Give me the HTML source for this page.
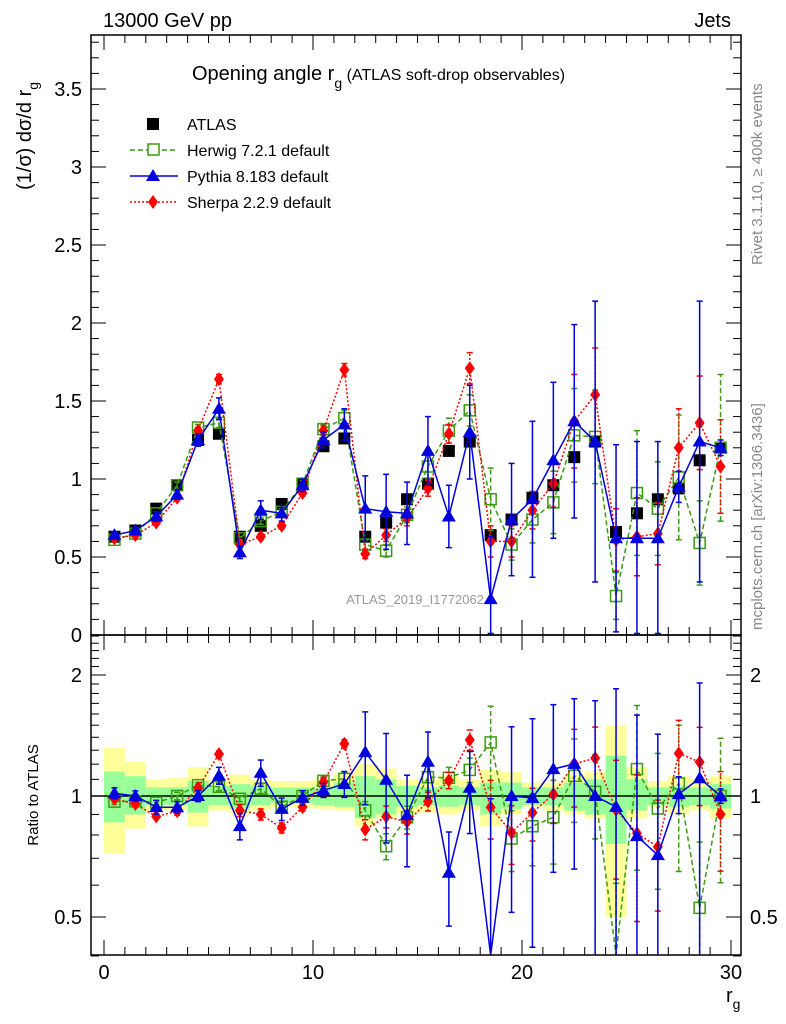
<!DOCTYPE html>
<html><head><meta charset="utf-8"><style>
html,body{margin:0;padding:0;background:#fff;overflow:hidden;width:786px;height:1024px;}
svg{display:block;font-family:"Liberation Sans",sans-serif;}
</style></head><body>
<svg id="c" width="786" height="1024" viewBox="0 0 786 1024" xmlns="http://www.w3.org/2000/svg">
<rect x="0" y="0" width="786" height="1024" fill="#fff"/>
<g id="bands"></g><g id="ticks"></g><g id="series"></g>
<rect x="91" y="35" width="650" height="600" fill="none" stroke="#000" stroke-width="1.5"/>
<rect x="91" y="635" width="650" height="320" fill="none" stroke="#000" stroke-width="1.5"/>
<text x="103" y="27" font-size="20">13000 GeV pp</text>
<text x="731" y="27" font-size="20" text-anchor="end">Jets</text>
<text x="192" y="80" font-size="20">Opening angle r<tspan font-size="14" dy="8">g</tspan><tspan font-size="16" dy="-8"> (ATLAS soft-drop observables)</tspan></text>
<text transform="translate(31,190) rotate(-90)" font-size="20">(1/σ) dσ/d r<tspan font-size="14" dy="7">g</tspan></text>
<text transform="translate(762,265) rotate(-90)" font-size="15" fill="#888">Rivet 3.1.10, ≥ 400k events</text>
<text transform="translate(762,630) rotate(-90)" font-size="15" fill="#888">mcplots.cern.ch [arXiv:1306.3436]</text>
<text x="415" y="604" font-size="13" fill="#999" text-anchor="middle">ATLAS_2019_I1772062</text>
<text transform="translate(38,795) rotate(-90)" font-size="15" text-anchor="middle">Ratio to ATLAS</text>
<text x="726" y="1002" font-size="20">r<tspan font-size="14" dy="7">g</tspan></text>
<g>
 <rect x="147" y="118" width="12" height="12" fill="#000"/>
 <text x="187" y="130" font-size="16">ATLAS</text>
 <line x1="130" y1="150" x2="178" y2="150" stroke="#3a9a10" stroke-width="1.5" stroke-dasharray="5,3"/>
 <rect x="148" y="144" width="11" height="11" fill="#fff" stroke="#3a9a10" stroke-width="1.5"/>
 <text x="187" y="156" font-size="16">Herwig 7.2.1 default</text>
 <line x1="130" y1="176" x2="178" y2="176" stroke="#0000dd" stroke-width="1.5"/>
 <polygon points="153,169 160,181 146,181" fill="#0000dd"/>
 <text x="187" y="182" font-size="16">Pythia 8.183 default</text>
 <line x1="130" y1="202" x2="178" y2="202" stroke="#f00" stroke-width="1.5" stroke-dasharray="2,2"/>
 <polygon points="153,195 158,202 153,209 148,202" fill="#f00"/>
 <text x="187" y="208" font-size="16">Sherpa 2.2.9 default</text>
</g>
</svg>
<script>
const binCenters=[0.5,1.5,2.5,3.5,4.5,5.5,6.5,7.5,8.5,9.5,10.5,11.5,12.5,13.5,14.5,15.5,16.5,17.5,18.5,19.5,20.5,21.5,22.5,23.5,24.5,25.5,26.5,27.5,28.5,29.5];
const atlas=[0.63,0.67,0.81,0.96,1.25,1.29,0.63,0.70,0.84,0.97,1.21,1.26,0.63,0.72,0.87,0.97,1.18,1.24,0.64,0.74,0.88,0.96,1.14,1.24,0.66,0.78,0.87,0.94,1.12,1.20];
const herwig=[0.61,0.65,0.78,0.96,1.33,1.36,0.62,0.73,0.79,0.97,1.32,1.39,0.58,0.54,0.77,1.08,1.31,1.44,0.87,0.58,0.74,0.85,1.28,1.27,0.25,0.91,0.81,1.01,0.59,1.20];
const herwigErr=[0.01,0.01,0.01,0.02,0.02,0.03,0.01,0.02,0.02,0.02,0.03,0.05,0.03,0.04,0.05,0.08,0.08,0.1,0.2,0.1,0.15,0.2,0.3,0.3,0.15,0.4,0.3,0.4,0.27,0.47];
const pythia=[0.64,0.67,0.76,0.90,1.25,1.45,0.53,0.80,0.78,0.96,1.25,1.35,0.81,0.79,0.78,1.18,0.76,1.30,0.23,0.74,0.87,1.12,1.37,1.24,0.62,0.62,0.62,0.95,1.24,1.20];
const pythiaErr=[0.02,0.02,0.03,0.03,0.04,0.07,0.04,0.06,0.05,0.04,0.05,0.1,0.21,0.24,0.2,0.22,0.2,0.3,0.4,0.36,0.5,0.5,0.62,0.9,0.6,0.62,0.62,0.1,0.9,0.05];
const sherpa=[0.62,0.64,0.72,0.88,1.31,1.64,0.58,0.63,0.70,0.91,1.31,1.70,0.52,0.64,0.75,0.94,1.29,1.71,0.60,0.60,0.80,0.97,1.37,1.54,0.61,0.63,0.65,1.20,1.36,1.08];
const sherpaErr=[0.01,0.01,0.01,0.02,0.02,0.03,0.02,0.02,0.02,0.02,0.03,0.04,0.03,0.04,0.05,0.05,0.06,0.1,0.1,0.1,0.12,0.15,0.3,0.3,0.2,0.25,0.2,0.25,0.3,0.3];
const yellowHi=[1.32,1.22,1.1,1.11,1.18,1.1,1.13,1.1,1.09,1.09,1.1,1.14,1.2,1.17,1.1,1.1,1.12,1.1,1.16,1.15,1.08,1.08,1.13,1.15,1.5,1.18,1.09,1.12,1.1,1.12];
const yellowLo=[0.72,0.83,0.92,0.92,0.84,0.92,0.9,0.92,0.94,0.94,0.93,0.92,0.84,0.88,0.9,0.91,0.9,0.92,0.84,0.9,0.94,0.92,0.9,0.88,0.5,0.88,0.94,0.9,0.92,0.88];
const greenHi=[1.15,1.12,1.05,1.05,1.09,1.06,1.07,1.06,1.05,1.05,1.05,1.08,1.12,1.1,1.06,1.05,1.06,1.05,1.08,1.08,1.05,1.05,1.08,1.1,1.26,1.1,1.05,1.06,1.05,1.07];
const greenLo=[0.86,0.9,0.95,0.95,0.91,0.95,0.93,0.95,0.96,0.96,0.95,0.94,0.88,0.9,0.94,0.95,0.94,0.95,0.9,0.93,0.95,0.95,0.92,0.9,0.76,0.92,0.95,0.94,0.95,0.93];
const mainTicks=[0,0.5,1,1.5,2,2.5,3,3.5];
const mainTickLabels=["0","0.5","1","1.5","2","2.5","3","3.5"];
const ratioTicks=[0.5,1,2];
const ratioTickLabels=["0.5","1","2"];
const xTicks=[0,10,20,30];
const xTickLabels=["0","10","20","30"];

const NS="http://www.w3.org/2000/svg";
const X=v=>104+20.9*v;
const Y=v=>635-156*v;
const R=v=>796-121*Math.log2(v);
const clampY=y=>Math.min(635,Math.max(35,y));
const clampR=y=>Math.min(955,Math.max(635,y));
function mk(tag,attrs,parent){const e=document.createElementNS(NS,tag);for(const k in attrs)e.setAttribute(k,attrs[k]);parent.appendChild(e);return e;}
const bands=document.getElementById('bands'),ticks=document.getElementById('ticks'),ser=document.getElementById('series');

binCenters.forEach((c,i)=>{
  const y=mk('rect',{x:X(c-0.5),y:R(yellowHi[i]),width:20.9,height:R(yellowLo[i])-R(yellowHi[i]),fill:'#ffff99'},bands);
  
  
  const g=mk('rect',{x:X(c-0.5),y:R(greenHi[i]),width:20.9,height:R(greenLo[i])-R(greenHi[i]),fill:'#99ff99'},bands);
  
  
});
const ref=mk('line',{x1:91,x2:741,y1:R(1),y2:R(1),stroke:'#000','stroke-width':1.5},bands);



for(let v=0;v<=3.85;v+=0.1){const maj=Math.abs(v*2-Math.round(v*2))<1e-6;const L=maj?15:8;
  mk('line',{x1:91,x2:91+L,y1:Y(v),y2:Y(v),stroke:'#000'},ticks);mk('line',{x1:741,x2:741-L,y1:Y(v),y2:Y(v),stroke:'#000'},ticks);}
mainTicks.forEach((v,i)=>{const t=mk('text',{x:82,y:Y(v)+7,'font-size':20,'text-anchor':'end'},ticks);t.textContent=mainTickLabels[i];
  
  });
const rmin=[0.4,0.5,0.6,0.7,0.8,0.9,1,1.1,1.2,1.3,1.4,1.5,1.6,1.7,1.8,1.9,2,2.1,2.2,2.3,2.4,2.5];
rmin.forEach(v=>{const maj=ratioTicks.includes(v);const L=maj?15:8;
  mk('line',{x1:91,x2:91+L,y1:R(v),y2:R(v),stroke:'#000'},ticks);mk('line',{x1:741,x2:741-L,y1:R(v),y2:R(v),stroke:'#000'},ticks);});
ratioTicks.forEach((v,i)=>{
  const t=mk('text',{x:82,y:R(v)+7,'font-size':20,'text-anchor':'end'},ticks);t.textContent=ratioTickLabels[i];
  
  
  const t2=mk('text',{x:750,y:R(v)+7,'font-size':20},ticks);t2.textContent=ratioTickLabels[i];
  
  });
for(let v=0;v<=30;v++){const maj=v%10===0;const L=maj?15:8;
  [35,635,955].forEach(b=>{ if(b!==35) mk('line',{x1:X(v),x2:X(v),y1:b,y2:b-L,stroke:'#000'},ticks);
    if(b!==955) mk('line',{x1:X(v),x2:X(v),y1:b,y2:b+L,stroke:'#000'},ticks);});}
xTicks.forEach((v,i)=>{const t=mk('text',{x:X(v),y:979,'font-size':20,'text-anchor':'middle'},ticks);t.textContent=xTickLabels[i];
  
  });

const gm=mk('g',{},ser);const gr=mk('g',{},ser);

function marker(g,type,x,y,col){
  if(type==='sq') return mk('rect',{x:x-6,y:y-6,width:12,height:12,fill:'#000'},g);
  if(type==='osq') return mk('rect',{x:x-5.5,y:y-5.5,width:11,height:11,fill:'none',stroke:col,'stroke-width':1.5},g);
  if(type==='tri') return mk('polygon',{points:`${x},${y-7} ${x+7},${y+5} ${x-7},${y+5}`,fill:col},g);
  return mk('polygon',{points:`${x},${y-7} ${x+5},${y} ${x},${y+7} ${x-5},${y}`,fill:col},g);
}
function drawSeries(name,vals,errs,col,dash,type){
  [[gm,Y,clampY,vals.map(v=>v),errs,35,635],[gr,R,clampR,vals.map((v,i)=>v/atlas[i]),errs.map((e,i)=>e/atlas[i]),635,955]].forEach(([g,F,C,vs,es,top,bot],k)=>{
    const pts=binCenters.map((c,i)=>X(c)+','+C(F(Math.max(vs[i],0.01)))).join(' ');
    const pl=mk('polyline',{points:pts,fill:'none',stroke:col,'stroke-width':1.5,'stroke-dasharray':dash},g);
    
    
    binCenters.forEach((c,i)=>{
      const x=X(c),lo=Math.max(vs[i]-es[i],0.01),hi=vs[i]+es[i];
      const ylo=F(lo),yhi=F(hi);
      mk('line',{x1:x,x2:x,y1:C(ylo),y2:C(yhi),stroke:col,'stroke-width':1.5,'stroke-dasharray':dash},g);
      if(ylo<=bot) mk('line',{x1:x-3,x2:x+3,y1:ylo,y2:ylo,stroke:col,'stroke-width':1.5},g);
      if(yhi>=top) mk('line',{x1:x-3,x2:x+3,y1:yhi,y2:yhi,stroke:col,'stroke-width':1.5},g);
      const yc=F(Math.max(vs[i],0.01));
      if(yc>=top && yc<=bot){
        const m=marker(g,type,x,yc,col);
        
        
      }
    });
  });
}
binCenters.forEach((c,i)=>{const m=marker(gm,'sq',X(c),Y(atlas[i]),'#000');
  
  });
drawSeries('herwig',herwig,herwigErr,'#3a9a10','5,3','osq');
drawSeries('sherpa',sherpa,sherpaErr,'#ff0000','2,2','dia');
drawSeries('pythia',pythia,pythiaErr,'#0000dd','','tri');
</script>
</body></html>
